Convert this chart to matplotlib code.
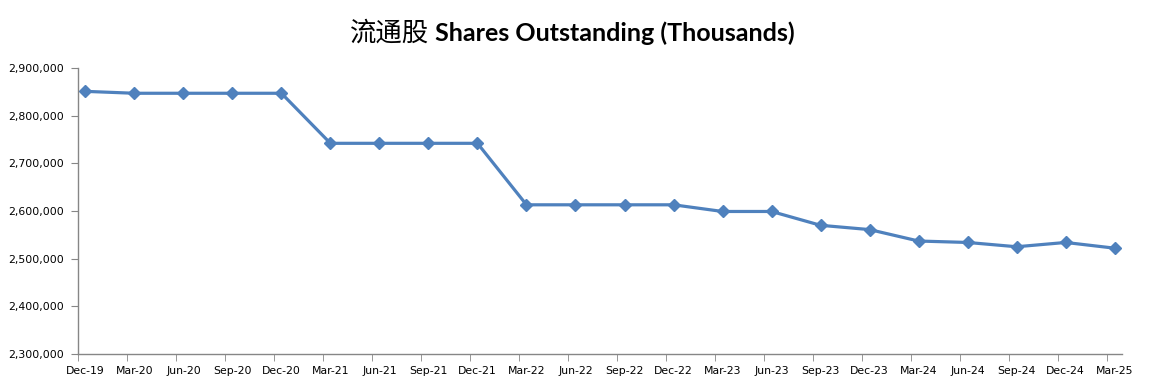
import matplotlib
matplotlib.use("Agg")
import matplotlib.pyplot as plt
from matplotlib.ticker import FuncFormatter, FixedLocator
import numpy as np

categories = ["Dec-19", "Mar-20", "Jun-20", "Sep-20", "Dec-20", "Mar-21", "Jun-21", "Sep-21",
              "Dec-21", "Mar-22", "Jun-22", "Sep-22", "Dec-22", "Mar-23", "Jun-23", "Sep-23",
              "Dec-23", "Mar-24", "Jun-24", "Sep-24", "Dec-24", "Mar-25"]
shares = [2851000, 2847000, 2847000, 2847000, 2847000, 2742000, 2742000, 2742000,
          2742000, 2613000, 2613000, 2613000, 2613000, 2599000, 2599000, 2570000,
          2561000, 2537000, 2534000, 2525000, 2534000, 2522000]
y_ticks = [2300000, 2400000, 2500000, 2600000, 2700000, 2800000, 2900000]

W, H = 1151, 387
fig = plt.figure(figsize=(W / 100, H / 100), dpi=100)
ax = fig.add_axes([78 / W, (H - 354) / H, (1122 - 78) / W, (354 - 68) / H])

x = np.arange(len(categories))
ax.plot(x, shares, color="#4F81BD", lw=2.3, marker="D", markersize=6.5,
        markerfacecolor="#4F81BD", markeredgecolor="#4F81BD")

off = 0.15
ax.set_xlim(-off, len(categories) - 1 + off)
ax.set_ylim(y_ticks[0], y_ticks[-1])

ax.set_xticks(x)
ax.set_xticklabels(categories)
ax.xaxis.set_minor_locator(FixedLocator(x - off))
ax.tick_params(axis="x", which="major", length=0, pad=9, labelsize=7.8)
ax.tick_params(axis="x", which="minor", length=5, direction="out", color="#868686")

ax.set_yticks(y_ticks)
ax.yaxis.set_major_formatter(FuncFormatter(lambda v, p: f"{int(v):,}"))
ax.tick_params(axis="y", length=5, direction="out", color="#868686", labelsize=7.8, pad=5)

for s in ["top", "right"]:
    ax.spines[s].set_visible(False)
for s in ["left", "bottom"]:
    ax.spines[s].set_color("#868686")
    ax.spines[s].set_linewidth(1)

t1 = fig.text(350 / W, 1 - 33 / H, "流通股", fontsize=19, family=["Noto Sans CJK SC", "DejaVu Sans"],
              ha="left", va="center", color="black")
fig.canvas.draw()
ax.annotate(" Shares Outstanding (Thousands)", xy=(1, 0.5), xycoords=t1, va="center", ha="left",
            fontsize=18, fontweight="bold", family=["Lato", "DejaVu Sans"], color="black",
            annotation_clip=False)

fig.savefig("out.png", dpi=100)
